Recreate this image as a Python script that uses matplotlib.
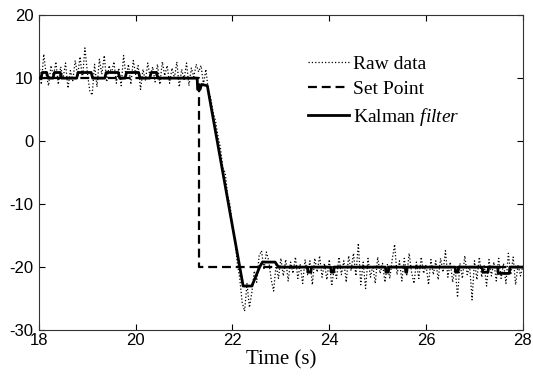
import numpy as np
import matplotlib
matplotlib.use("Agg")
import matplotlib.pyplot as plt

plt.rcParams['mathtext.fontset'] = 'custom'
plt.rcParams['mathtext.rm'] = 'Liberation Serif'
plt.rcParams['mathtext.it'] = 'Liberation Serif:italic'
plt.rcParams['axes.unicode_minus'] = False

# raw measurement, sampled every 0.05 s from 18.00 to 28.00
raw_t0, raw_dt = 18.0, 0.05
raw_data = [
    12.5, 9.0, 13.8, 10.5, 8.8, 12.0, 10.2, 12.6, 9.0, 11.8,
    10.0, 12.4, 8.4, 11.2, 9.6, 12.8, 10.4, 13.4, 9.8, 14.8,
    11.0, 8.0, 7.3, 12.2, 8.6, 13.0, 10.6, 13.6, 9.4, 12.0,
    10.8, 12.6, 9.2, 11.6, 8.8, 13.6, 10.2, 12.2, 9.0, 12.8,
    10.6, 12.0, 8.2, 11.4, 9.6, 12.4, 10.0, 11.8, 9.4, 12.2,
    9.0, 12.6, 10.4, 12.0, 9.2, 11.6, 10.0, 12.6, 8.6, 11.4,
    9.8, 12.4, 8.8, 11.6, 10.2, 12.2, 11.0, 12.0, 9.0, 11.4,
    8.0, 6.8, 4.6, 3.2, 0.8, -1.0, -4.2, -5.0, -8.6, -10.2,
    -13.8, -15.6, -19.4, -21.8, -25.6, -27.0, -22.6, -26.4, -24.0, -20.6,
    -22.4, -18.2, -17.4, -20.4, -17.6, -19.0, -22.0, -23.8, -19.6, -21.8,
    -18.6, -21.4, -18.8, -22.2, -19.2, -21.0, -18.4, -21.8, -19.6, -22.6,
    -18.8, -21.2, -19.0, -22.8, -18.6, -20.8, -18.2, -21.6, -19.4, -22.0,
    -18.8, -23.0, -20.2, -21.8, -18.4, -21.2, -19.0, -22.4, -18.2, -20.6,
    -17.8, -21.4, -16.2, -22.8, -19.2, -23.4, -18.6, -21.6, -19.8, -22.6,
    -18.4, -21.0, -19.4, -22.4, -19.6, -21.8, -18.8, -16.4, -21.2, -19.0,
    -22.2, -18.6, -21.4, -17.8, -20.8, -22.6, -19.2, -21.8, -18.4, -21.0,
    -19.6, -22.8, -18.8, -21.2, -19.0, -22.0, -18.6, -20.8, -17.4, -21.6,
    -19.2, -22.4, -20.0, -24.8, -19.4, -21.8, -18.2, -21.2, -19.8, -25.2,
    -19.0, -22.0, -18.4, -21.6, -19.6, -23.0, -18.8, -21.4, -19.2, -22.2,
    -18.6, -21.8, -19.4, -22.6, -17.8, -21.2, -18.4, -22.8, -19.6, -21.4,
    -19.8,
]
raw_time = raw_t0 + raw_dt * np.arange(len(raw_data))

# set point
sp_time = [18.0, 21.3, 21.3, 28.0]
sp_value = [10, 10, -20, -20]

# kalman filter estimate (breakpoints)
kf_time = [18.00, 18.04, 18.07, 18.16, 18.19, 18.29, 18.32, 18.44, 18.47,
           18.78, 18.81, 19.08, 19.11, 19.36, 19.39, 19.64, 19.67, 19.78,
           19.81, 20.06, 20.09, 20.29, 20.32, 20.43, 20.46, 21.27, 21.28,
           21.33, 21.36, 21.48, 22.22, 22.40, 22.56, 22.62, 22.88, 22.95,
           23.55, 23.56, 23.62, 23.63, 24.03, 24.04, 24.09, 24.10,
           25.16, 25.17, 25.22, 25.23, 25.57, 25.58, 25.60, 25.61,
           26.60, 26.61, 26.66, 26.67, 27.16, 27.17, 27.28, 27.29,
           27.48, 27.49, 27.72, 27.73, 28.00]
kf_value = [10, 10, 10.9, 10.9, 10, 10, 10.9, 10.9, 10,
            10, 10.9, 10.9, 10, 10, 10.9, 10.9, 10, 10,
            10.9, 10.9, 10, 10, 10.9, 10.9, 10, 10, 8.2,
            8.2, 9.0, 8.8, -23, -23, -20, -19.2, -19.2, -20,
            -20, -20.8, -20.8, -20, -20, -20.8, -20.8, -20,
            -20, -20.8, -20.8, -20, -20, -20.8, -20.8, -20,
            -20, -20.8, -20.8, -20, -20, -20.8, -20.8, -20,
            -20, -21, -21, -20, -20]

fig = plt.figure(figsize=(5.33, 3.79), dpi=100)
ax = fig.add_axes([0.073, 0.129, 0.908, 0.831])

ax.plot(raw_time, raw_data, color='black', linestyle=':', linewidth=0.9,
        label='Raw data', zorder=2)
ax.plot(sp_time, sp_value, color='black', linestyle=(0, (4, 2.2)), linewidth=1.6,
        label='Set Point', zorder=3)
ax.plot(kf_time, kf_value, color='black', linewidth=2.0,
        label='Kalman $\\mathit{filter}$', zorder=4)

ax.set_xlim(18, 28)
ax.set_ylim(-30, 20)
ax.set_xticks([18, 20, 22, 24, 26, 28])
ax.set_yticks([-30, -20, -10, 0, 10, 20])
ax.tick_params(direction='in', top=True, right=True, length=4, width=0.8,
               labelsize=12)
ax.tick_params(axis='x', pad=2)
ax.tick_params(axis='y', pad=4)
for lbl in ax.get_xticklabels() + ax.get_yticklabels():
    lbl.set_fontfamily('Liberation Sans')
for sp in ax.spines.values():
    sp.set_linewidth(0.8)
    sp.set_color('#333333')

ax.set_xlabel('Time (s)', fontsize=15, fontfamily='Liberation Serif', labelpad=2)

ax.legend(loc='upper left', bbox_to_anchor=(0.556, 0.873), frameon=False,
          borderpad=0, borderaxespad=0, handlelength=2.1, handletextpad=0.2,
          labelspacing=0.4, prop={'family': 'Liberation Serif', 'size': 14})

plt.savefig('out.png', dpi=100)
